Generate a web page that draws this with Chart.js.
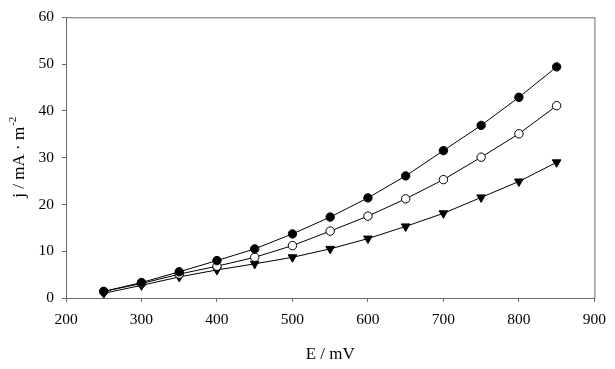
<!DOCTYPE html>
<html>
<head>
<meta charset="utf-8">
<script src="https://cdn.jsdelivr.net/npm/chart.js@4.4.1/dist/chart.umd.min.js"></script>
<style>
  html, body { margin: 0; padding: 0; background: #fff; }
  #wrap { width: 615px; height: 369px; }
</style>
</head>
<body>
<div id="wrap"><canvas id="grafico"></canvas></div>
<script>
// datos
const potencial = [250, 300, 350, 400, 450, 500, 550, 600, 650, 700, 750, 800, 850];
const serieLlena = [1.4, 3.3, 5.6, 8.0, 10.5, 13.7, 17.3, 21.4, 26.1, 31.5, 36.9, 42.9, 49.4];
const serieAbierta = [1.4, 3.1, 5.1, 6.8, 8.7, 11.2, 14.3, 17.5, 21.2, 25.3, 30.1, 35.1, 41.1];
const serieTriang = [1.0, 2.7, 4.5, 6.0, 7.3, 8.7, 10.5, 12.7, 15.3, 18.1, 21.5, 24.9, 29.0];
const ticksX = [200, 300, 400, 500, 600, 700, 800, 900];
const ticksY = [0, 10, 20, 30, 40, 50, 60];

const fuente = '"Liberation Serif", "Times New Roman", serif';
const gris = '#6a6a6a';

const pares = (ys) => potencial.map((x, i) => ({ x: x, y: ys[i] }));

// marco y titulo del eje Y con superindice
const marcoPlugin = {
    id: 'marco',
    afterDraw(chart) {
        const { ctx, chartArea: a } = chart;
        ctx.save();
        ctx.strokeStyle = gris;
        ctx.lineWidth = 1;
        ctx.strokeRect(a.left + 0.5, a.top + 0.5, a.right - a.left, a.bottom - a.top);

        ctx.fillStyle = '#000';
        ctx.translate(20, (a.top + a.bottom) / 2);
        ctx.rotate(-Math.PI / 2);
        const base = 'j / mA \u00b7 m';
        ctx.font = '11px ' + fuente;
        const wSup = ctx.measureText('-2').width;
        ctx.font = '17px ' + fuente;
        const wBase = ctx.measureText(base).width;
        const x0 = -(wBase + wSup) / 2;
        ctx.textBaseline = 'middle';
        ctx.textAlign = 'left';
        ctx.fillText(base, x0, 0);
        ctx.font = '11px ' + fuente;
        ctx.fillText('-2', x0 + wBase + 1, -7);
        ctx.restore();
    }
};

function dibujar() {
    const ctx = document.getElementById('grafico').getContext('2d');
    new Chart(ctx, {
        type: 'line',
        data: {
            datasets: [
                {
                    data: pares(serieLlena),
                    borderColor: '#000', borderWidth: 1,
                    pointStyle: 'circle', pointRadius: 4.2,
                    pointBackgroundColor: '#000', pointBorderColor: '#000', pointBorderWidth: 1
                },
                {
                    data: pares(serieAbierta),
                    borderColor: '#000', borderWidth: 1,
                    pointStyle: 'circle', pointRadius: 4.2,
                    pointBackgroundColor: '#fff', pointBorderColor: '#000', pointBorderWidth: 1
                },
                {
                    data: pares(serieTriang),
                    borderColor: '#000', borderWidth: 1,
                    pointStyle: 'triangle', pointRotation: 180, pointRadius: 5,
                    pointBackgroundColor: '#000', pointBorderColor: '#000', pointBorderWidth: 1
                }
            ]
        },
        options: {
            responsive: true,
            maintainAspectRatio: false,
            animation: false,
            layout: { padding: { top: 9, right: 17, left: 0, bottom: 0 } },
            plugins: {
                legend: { display: false },
                tooltip: { enabled: false }
            },
            scales: {
                x: {
                    type: 'linear', min: 200, max: 900,
                    afterBuildTicks: (s) => { s.ticks = ticksX.map(v => ({ value: v })); },
                    afterFit: (s) => { s.height = 71; },
                    border: { display: false },
                    grid: { drawOnChartArea: false, tickLength: 4, color: gris },
                    ticks: { color: '#000', padding: 9, font: { family: fuente, size: 15.5 } },
                    title: {
                        display: true, text: 'E / mV', color: '#000',
                        padding: { top: 13 }, font: { family: fuente, size: 17 }
                    }
                },
                y: {
                    type: 'linear', min: 0, max: 60,
                    afterBuildTicks: (s) => { s.ticks = ticksY.map(v => ({ value: v })); },
                    afterFit: (s) => { s.width = 66; },
                    border: { display: false },
                    grid: { drawOnChartArea: false, tickLength: 4, color: gris },
                    ticks: { color: '#000', padding: 8, font: { family: fuente, size: 15.5 } }
                }
            }
        },
        plugins: [marcoPlugin]
    });
}

document.fonts.load('16px "Liberation Serif"').then(dibujar, dibujar);
</script>
</body>
</html>
